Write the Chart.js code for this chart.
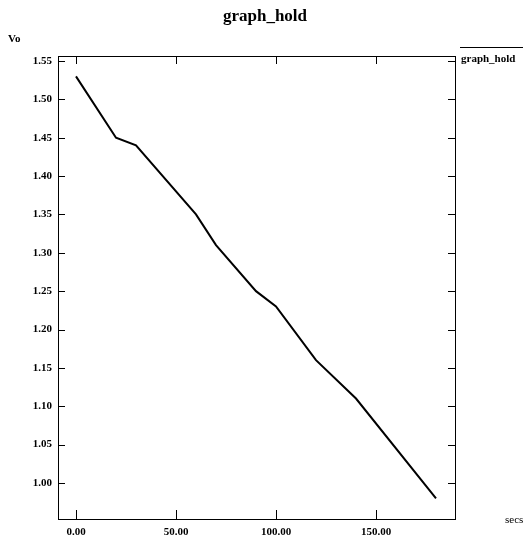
<!DOCTYPE html>
<html>
<head>
<meta charset="utf-8">
<script src="https://cdn.jsdelivr.net/npm/chart.js@4/dist/chart.umd.min.js"></script>
<style>
html,body{margin:0;padding:0;background:#fff;}
#wrap{width:523px;height:542px;}
</style>
</head>
<body>
<div id="wrap"><canvas id="c" width="523" height="542"></canvas></div>
<script>
const titleText = 'graph_hold';
const seriesName = 'graph_hold';
const yAxisLabel = 'Vo';
const xAxisLabel = 'secs';
const secs = [0, 20, 30, 60, 70, 90, 100, 120, 140, 180];
const vo = [1.53, 1.45, 1.44, 1.35, 1.31, 1.25, 1.23, 1.16, 1.11, 0.98];
const xTicks = [0, 50, 100, 150];
const yTicks = [1.00, 1.05, 1.10, 1.15, 1.20, 1.25, 1.30, 1.35, 1.40, 1.45, 1.50, 1.55];

const FONT = "'Liberation Serif', 'Times New Roman', serif";

const decor = {
  id: 'decor',
  afterDraw(chart) {
    const ctx = chart.ctx;
    const a = chart.chartArea;
    const xs = chart.scales.x, ys = chart.scales.y;
    ctx.save();
    ctx.strokeStyle = '#000';
    ctx.lineWidth = 1;
    // box
    ctx.strokeRect(Math.round(a.left) + 0.5, Math.round(a.top) + 0.5, Math.round(a.right - a.left), Math.round(a.bottom - a.top));
    // inner ticks
    ctx.beginPath();
    xTicks.forEach(v => {
      const x = Math.round(xs.getPixelForValue(v)) + 0.5;
      ctx.moveTo(x, a.bottom); ctx.lineTo(x, a.bottom - 9);
      ctx.moveTo(x, a.top); ctx.lineTo(x, a.top + 8);
    });
    yTicks.forEach(v => {
      const y = Math.round(ys.getPixelForValue(v)) + 0.5;
      ctx.moveTo(a.left, y); ctx.lineTo(a.left + 7, y);
      ctx.moveTo(a.right, y); ctx.lineTo(a.right - 7, y);
    });
    ctx.stroke();
    ctx.fillStyle = '#000';
    ctx.textBaseline = 'middle';
    // title
    ctx.textAlign = 'center';
    ctx.font = 'bold 17px ' + FONT;
    ctx.fillText(titleText, 265, 17);
    // axis labels
    ctx.textAlign = 'left';
    ctx.font = 'bold 11px ' + FONT;
    ctx.fillText(yAxisLabel, 8, 39);
    ctx.font = '11px ' + FONT;
    ctx.fillText(xAxisLabel, 505, 520);
    // legend
    ctx.beginPath();
    ctx.moveTo(460, 47.5); ctx.lineTo(523, 47.5);
    ctx.stroke();
    ctx.font = 'bold 11px ' + FONT;
    ctx.fillText(seriesName, 461, 59);
    ctx.restore();
  }
};

new Chart(document.getElementById('c'), {
  type: 'line',
  data: {
    datasets: [{
      label: seriesName,
      data: secs.map((s, i) => ({x: s, y: vo[i]})),
      borderColor: '#000',
      borderWidth: 2,
      pointRadius: 0,
      tension: 0,
      fill: false
    }]
  },
  options: {
    responsive: false,
    animation: false,
    events: [],
    layout: { padding: { top: 56, right: 68, left: 0, bottom: 0 } },
    plugins: {
      legend: { display: false },
      tooltip: { enabled: false },
      title: { display: false }
    },
    scales: {
      x: {
        type: 'linear',
        min: -9,
        max: 189.5,
        afterBuildTicks: s => { s.ticks = xTicks.map(v => ({value: v})); },
        afterFit: s => { s.height = 23; },
        grid: { display: true, drawOnChartArea: false, drawTicks: false },
        border: { display: false },
        ticks: {
          padding: 7,
          color: '#000',
          maxRotation: 0,
          autoSkip: false,
          font: { family: FONT, size: 11, weight: 'bold' },
          callback: v => Number(v).toFixed(2)
        }
      },
      y: {
        type: 'linear',
        min: 0.953,
        max: 1.5565,
        afterBuildTicks: s => { s.ticks = yTicks.map(v => ({value: v})); },
        afterFit: s => { s.width = 58; },
        grid: { display: true, drawOnChartArea: false, drawTicks: false },
        border: { display: false },
        ticks: {
          padding: 6,
          color: '#000',
          autoSkip: false,
          font: { family: FONT, size: 11, weight: 'bold' },
          callback: v => Number(v).toFixed(2)
        }
      }
    }
  },
  plugins: [decor]
});
</script>
</body>
</html>
